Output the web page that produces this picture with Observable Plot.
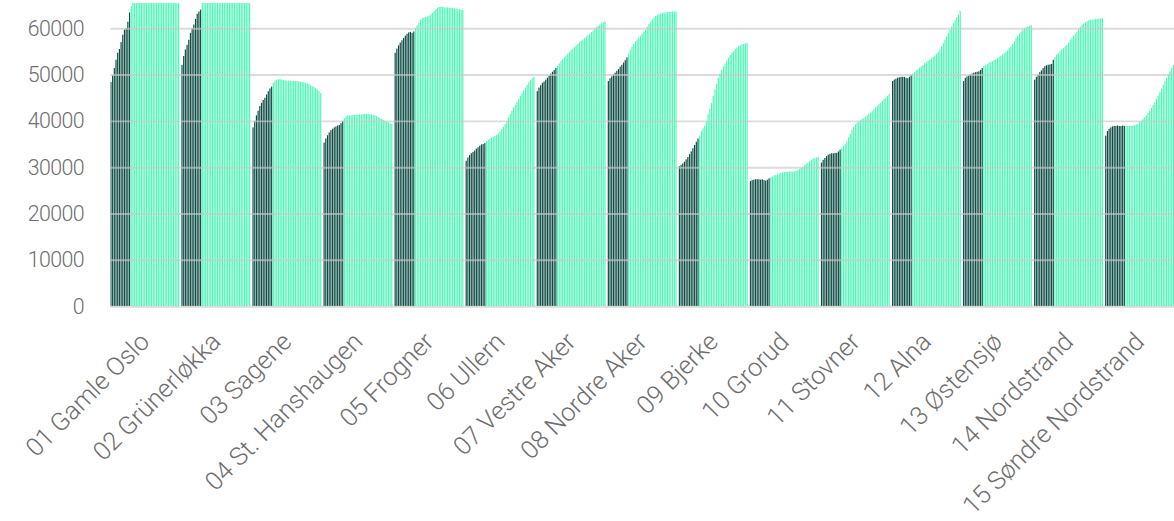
<!DOCTYPE html>
<html>
<head>
<meta charset="utf-8">
<script src="https://cdn.jsdelivr.net/npm/d3@7"></script>
<script src="https://cdn.jsdelivr.net/npm/@observablehq/plot@0.6"></script>
<style>
html, body { margin: 0; padding: 0; background: #fff; overflow: hidden; }
</style>
</head>
<body>
<div id="chart"></div>
<script>
// District names (x-axis labels)
const districts = [
  "01 Gamle Oslo", "02 Grünerløkka", "03 Sagene", "04 St. Hanshaugen", "05 Frogner",
  "06 Ullern", "07 Vestre Aker", "08 Nordre Aker", "09 Bjerke", "10 Grorud",
  "11 Stovner", "12 Alna", "13 Østensjø", "14 Nordstrand", "15 Søndre Nordstrand"
];

// Historical values (dark bars), 12 per district
const historical = [
  [48400, 49800, 51400, 53200, 54700, 55500, 57000, 58600, 59700, 60000, 61400, 63400],
  [52100, 54000, 55400, 56400, 57500, 59000, 60000, 60800, 62000, 63100, 63600, 64000],
  [38600, 40000, 41200, 42200, 43200, 43900, 44500, 45000, 45700, 46400, 47000, 47400],
  [35300, 36200, 36900, 37500, 38000, 38300, 38600, 38800, 39000, 39100, 39500, 40000],
  [54700, 55600, 56300, 56900, 57400, 57900, 58400, 58800, 59100, 59200, 59000, 59300],
  [31400, 32100, 32600, 33000, 33300, 33600, 34000, 34300, 34600, 34900, 35000, 35200],
  [46400, 47200, 47700, 48200, 48500, 48900, 49300, 49800, 50200, 50600, 51000, 51400],
  [48600, 49200, 49600, 50000, 50400, 50800, 51200, 51700, 52100, 52600, 53100, 53700],
  [30200, 30500, 30800, 31200, 31700, 32200, 32800, 33400, 34100, 34800, 35500, 36200],
  [27000, 27200, 27300, 27400, 27400, 27400, 27300, 27400, 27200, 27100, 27300, 27600],
  [31000, 31600, 32000, 32400, 32700, 32900, 33000, 33000, 33100, 33100, 33400, 33800],
  [48600, 48900, 49100, 49300, 49400, 49500, 49500, 49500, 49300, 49200, 49500, 49900],
  [48600, 49300, 49600, 49800, 50000, 50200, 50400, 50500, 50600, 50700, 51000, 51400],
  [48900, 49500, 50000, 50500, 50900, 51400, 51800, 52000, 52100, 52200, 52300, 53200],
  [36800, 37800, 38300, 38600, 38800, 38900, 38900, 39000, 38900, 38900, 39000, 38900]
];

// Projected values (light bars), 29 per district
const projected = [
  [64800, 66000, 67000, 67900, 68800, 69600, 70400, 71100, 71800, 72500, 73100, 73700, 74300, 74900, 75400, 75900, 76400, 76900, 77300, 77700, 78100, 78500, 78900, 79200, 79500, 79800, 80100, 80400, 80600],
  [65800, 66600, 67300, 68000, 68600, 69200, 69800, 70300, 70800, 71300, 71700, 72100, 72500, 72900, 73300, 73600, 73900, 74200, 74500, 74800, 75000, 75200, 75400, 75600, 75800, 76000, 76100, 76200, 76300],
  [48200, 48700, 48900, 49000, 49000, 48900, 48800, 48800, 48700, 48700, 48700, 48600, 48600, 48600, 48600, 48500, 48500, 48400, 48300, 48200, 48100, 47900, 47700, 47500, 47300, 47100, 46800, 46400, 46000],
  [40600, 41000, 41200, 41200, 41200, 41300, 41300, 41300, 41300, 41400, 41400, 41500, 41500, 41500, 41500, 41400, 41400, 41300, 41200, 41000, 40800, 40600, 40400, 40200, 40000, 39800, 39700, 39500, 39300],
  [60000, 60600, 61200, 61800, 62200, 62300, 62400, 62500, 62700, 63000, 63300, 63700, 64100, 64400, 64600, 64600, 64600, 64500, 64500, 64500, 64400, 64400, 64400, 64300, 64300, 64200, 64100, 64000, 63900],
  [35600, 35900, 36200, 36400, 36600, 36800, 37000, 37300, 37700, 38200, 38700, 39300, 40000, 40800, 41500, 42200, 42900, 43500, 44100, 44700, 45400, 46000, 46600, 47200, 47800, 48300, 48800, 49200, 49500],
  [51900, 52400, 52900, 53300, 53700, 54100, 54500, 54900, 55300, 55600, 56000, 56300, 56600, 57000, 57300, 57600, 57900, 58200, 58500, 58800, 59200, 59500, 59800, 60200, 60500, 60800, 61100, 61300, 61500],
  [54600, 55300, 56000, 56600, 57100, 57600, 58000, 58400, 58800, 59200, 59700, 60300, 60900, 61400, 61900, 62300, 62600, 62900, 63100, 63200, 63300, 63400, 63400, 63500, 63500, 63500, 63600, 63600, 63600],
  [36800, 37800, 38400, 39000, 40000, 41400, 42600, 43900, 45400, 46800, 48000, 49300, 50200, 51000, 51700, 52400, 53000, 53600, 54200, 54700, 55100, 55500, 55800, 56100, 56300, 56500, 56600, 56700, 56800],
  [27800, 28000, 28200, 28300, 28500, 28600, 28800, 28900, 29000, 29000, 29000, 29100, 29100, 29100, 29100, 29200, 29400, 29600, 29800, 30100, 30400, 30700, 31000, 31300, 31600, 31800, 32000, 32100, 32200],
  [34200, 34600, 35000, 35600, 36400, 37200, 38000, 38700, 39200, 39600, 39900, 40200, 40400, 40600, 40900, 41200, 41500, 41800, 42100, 42500, 42900, 43200, 43600, 43900, 44300, 44700, 45000, 45400, 45800],
  [50200, 50500, 50900, 51200, 51500, 51800, 52100, 52400, 52700, 53000, 53200, 53500, 53800, 54100, 54500, 54900, 55400, 56100, 56800, 57500, 58300, 59000, 59700, 60400, 61100, 61700, 62400, 63000, 63700],
  [51800, 52100, 52300, 52500, 52700, 52900, 53100, 53200, 53500, 53800, 54000, 54300, 54600, 54900, 55200, 55700, 56100, 56600, 57200, 57900, 58400, 58900, 59300, 59700, 60000, 60200, 60400, 60500, 60600],
  [53800, 54300, 54600, 55000, 55400, 55700, 56100, 56400, 56900, 57400, 57900, 58400, 58800, 59300, 59800, 60300, 60700, 61000, 61300, 61500, 61700, 61800, 61900, 61900, 62000, 62000, 62100, 62100, 62200],
  [38900, 38900, 38900, 38900, 39000, 39100, 39200, 39400, 39700, 40000, 40400, 40800, 41200, 41700, 42200, 42800, 43400, 44000, 44700, 45400, 46200, 47000, 47800, 48600, 49300, 50000, 50700, 51400, 52100]
];

const yTicks = [0, 10000, 20000, 30000, 40000, 50000, 60000];

const darkColor = "#0c4c43";
const lightColor = "#52f6b9";

// Build rows and the band domain (with one empty slot between districts)
const rows = [];
const keys = [];
const labelKeys = [];
const labelOf = new Map();
districts.forEach((name, g) => {
  const h = historical[g], p = projected[g];
  h.forEach((v, i) => rows.push({key: `${g}|${i}`, value: v, phase: "hist"}));
  p.forEach((v, j) => rows.push({key: `${g}|${h.length + j}`, value: v, phase: "proj"}));
  const n = h.length + p.length;
  for (let i = 0; i < n; i++) keys.push(`${g}|${i}`);
  if (g < districts.length - 1) keys.push(`${g}|gap`);
  const mid = `${g}|${Math.floor(n / 2)}`;
  labelKeys.push(mid);
  labelOf.set(mid, name);
});

const chart = Plot.plot({
  width: 1181,
  height: 521,
  marginLeft: 111,
  marginRight: 0,
  marginTop: 3,
  marginBottom: 213,
  style: {fontFamily: "Roboto, sans-serif", fontSize: "21px", fontWeight: 300, color: "#6e6e6e", background: "#fff", overflow: "visible"},
  x: {domain: keys, paddingInner: 0.3, paddingOuter: 0, align: 0},
  y: {domain: [0, 65450]},
  color: {domain: ["hist", "proj"], range: [darkColor, lightColor]},
  marks: [
    Plot.barY(rows, {x: "key", y: "value", fill: "phase", clip: true}),
    Plot.gridY(yTicks, {stroke: "#c8c8c8", strokeOpacity: 0.65, strokeWidth: 2}),
    Plot.axisY(yTicks, {tickSize: 0, tickPadding: 27, fontSize: 21.5, fontWeight: 300, tickFormat: d3.format("d"), label: null}),
    Plot.axisX(labelKeys, {tickSize: 0, tickPadding: 31, dx: 0, fontSize: 25.5, fontWeight: 300, tickRotate: -45, tickFormat: k => labelOf.get(k), label: null})
  ]
});

chart.querySelectorAll('g[aria-label="y-axis tick label"] text').forEach(t => t.setAttribute("letter-spacing", "-0.6"));

document.getElementById("chart").appendChild(chart);
</script>
</body>
</html>
